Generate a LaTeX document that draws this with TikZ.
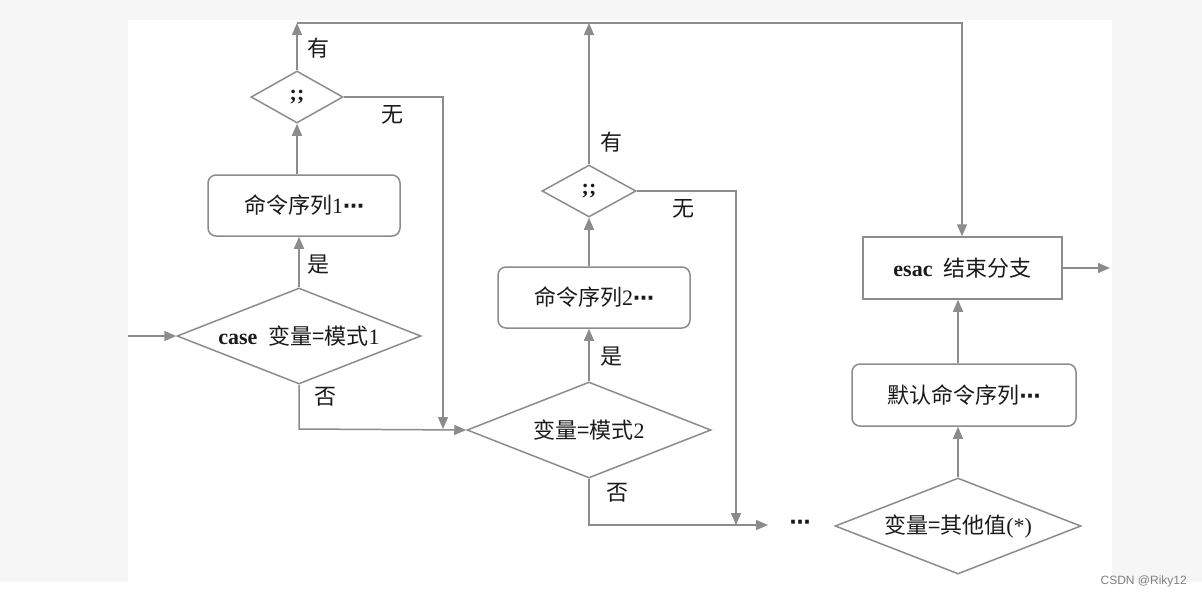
\documentclass[tikz,border=0pt]{standalone}
\usepackage{fontspec}
\setmainfont{Liberation Serif}
\newfontfamily\cjk{Noto Sans CJK SC}
\newfontfamily\wmfont{Liberation Sans}
\newfontfamily\djv{DejaVu Sans}
\newcommand{\mdots}{{\djv\bfseries\fontsize{21}{24}\selectfont ⋯}}
\usetikzlibrary{shapes.geometric,arrows.meta}
\definecolor{ln}{HTML}{8C8C8C}
\definecolor{tx}{HTML}{1A1A1A}
\definecolor{bgg}{HTML}{F6F6F6}
\tikzset{
  ln/.style={draw=ln,line width=1.5pt},
  arr/.style={ln,-{Triangle[length=12pt,width=10pt,fill=ln]}},
  dia/.style={diamond,draw=ln,line width=1.5pt,inner sep=0pt,text=tx,font=\fontsize{22}{26}\selectfont},
  rbox/.style={rectangle,rounded corners=8pt,draw=ln,line width=1.5pt,inner sep=0pt,text=tx,font=\fontsize{22}{26}\selectfont},
  sbox/.style={rectangle,draw=ln,line width=1.5pt,inner sep=0pt,text=tx,font=\fontsize{22}{26}\selectfont},
  lbl/.style={text=tx,inner sep=0pt,font=\cjk\fontsize{22}{26}\selectfont}
}
\begin{document}
\begin{tikzpicture}[x=1pt,y=-1pt]
\useasboundingbox (0,0) rectangle (1202,598);
\fill[bgg] (0,0) rectangle (1202,598);
\fill[white] (128,20) rectangle (1112,598);
\fill[white] (0,582) rectangle (1202,598);

% nodes
\node[dia,shape aspect=1.77,minimum width=92pt,minimum height=52pt] (d1) at (297,97) {\textbf{;;}};
\node[rbox,minimum width=192pt,minimum height=61pt] (b1) at (304,205.5) {{\cjk 命令序列}1\mdots};
\node[dia,shape aspect=2.54,minimum width=244pt,minimum height=96pt] (c1) at (299,336) {\textbf{case}\enspace{\cjk 变量=模式}1};
\node[dia,shape aspect=2.54,minimum width=244pt,minimum height=96pt] (d2) at (589,430) {{\cjk 变量=模式}2};
\node[rbox,minimum width=192pt,minimum height=61pt] (b2) at (594,297.5) {{\cjk 命令序列}2\mdots};
\node[dia,shape aspect=1.8,minimum width=94pt,minimum height=52pt] (s2) at (589,191) {\textbf{;;}};
\node[dia,shape aspect=2.56,minimum width=246pt,minimum height=96pt] (c3) at (958,526) {{\cjk 变量=其他值}(*)};
\node[rbox,minimum width=224pt,minimum height=62pt] (b3) at (964,395) {{\cjk 默认命令序列}\mdots};
\node[sbox,minimum width=199pt,minimum height=62pt] (esac) at (962.5,268) {\textbf{esac}\enspace{\cjk 结束分支}};
\node[text=tx,inner sep=0pt] (dots) at (800,525) {\mdots};

% coordinates
\coordinate (in) at (128,336);
\coordinate (top1) at (297,23);
\coordinate (top2) at (589,23);
\coordinate (topR) at (962,23);
\coordinate (r1) at (443,97);
\coordinate (r1b) at (443,429);
\coordinate (j1) at (299,429);
\coordinate (r2) at (736,191);
\coordinate (r2b) at (736,525);
\coordinate (j2) at (589,525);
\coordinate (j2e) at (768,525);
\coordinate (out) at (1110,268);

% connectors
\draw[arr] (in) -- (c1.west);
\draw[arr] (c1.north) -- (c1.north |- b1.south);
\draw[arr] (d1.south |- b1.north) -- (d1.south);
\draw[arr] (d1.north) -- (top1);
\draw[arr] (top1) -- (topR) -- (esac.north -| topR);
\draw[arr] (d1.east) -- (r1) -- (r1b);
\draw[arr] (c1.south) -- (j1) -- (d2.west);
\draw[arr] (d2.north) -- (d2.north |- b2.south);
\draw[arr] (s2.south |- b2.north) -- (s2.south);
\draw[arr] (s2.north) -- (top2);
\draw[arr] (s2.east) -- (r2) -- (r2b);
\draw[arr] (d2.south) -- (j2) -- (j2e);
\draw[arr] (c3.north) -- (c3.north |- b3.south);
\draw[arr] (c3.north |- b3.north) -- (c3.north |- esac.south);
\draw[arr] (esac.east) -- (out);

% labels
\node[lbl] (l1) at (318,48) {有};
\node[lbl] (l2) at (392,115) {无};
\node[lbl] (l3) at (318,265) {是};
\node[lbl] (l4) at (325,397) {否};
\node[lbl] (l5) at (611,142) {有};
\node[lbl] (l6) at (683,209) {无};
\node[lbl] (l7) at (611,357) {是};
\node[lbl] (l8) at (617,493) {否};

\node[anchor=east,inner sep=0pt,text=gray,font=\wmfont\fontsize{12}{14}\selectfont] (wm) at (1187,581) {CSDN @Riky12};
\end{tikzpicture}
\end{document}
